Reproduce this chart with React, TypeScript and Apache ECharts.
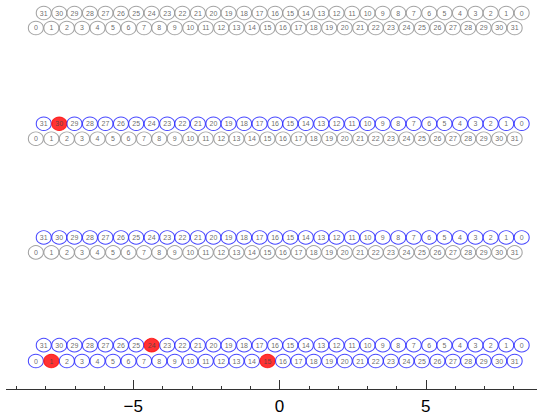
import React, { useEffect, useRef } from "react";
import * as echarts from "echarts";

const TOP_LABELS = [31, 30, 29, 28, 27, 26, 25, 24, 23, 22, 21, 20, 19, 18, 17, 16, 15, 14, 13, 12, 11, 10, 9, 8, 7, 6, 5, 4, 3, 2, 1, 0];
const TOP_X = [-8.06, -7.53, -7.01, -6.48, -5.95, -5.42, -4.9, -4.37, -3.84, -3.32, -2.79, -2.26, -1.74, -1.21, -0.68, -0.15, 0.37, 0.9, 1.43, 1.95, 2.48, 3.01, 3.53, 4.06, 4.59, 5.12, 5.64, 6.17, 6.7, 7.22, 7.75, 8.28];
const BOTTOM_LABELS = [0, 1, 2, 3, 4, 5, 6, 7, 8, 9, 10, 11, 12, 13, 14, 15, 16, 17, 18, 19, 20, 21, 22, 23, 24, 25, 26, 27, 28, 29, 30, 31];
const BOTTOM_X = [-8.33, -7.8, -7.27, -6.75, -6.22, -5.69, -5.16, -4.63, -4.11, -3.58, -3.05, -2.52, -1.99, -1.47, -0.94, -0.41, 0.12, 0.65, 1.17, 1.7, 2.23, 2.76, 3.29, 3.81, 4.34, 4.87, 5.4, 5.93, 6.45, 6.98, 7.51, 8.04];

const GROUP_TOP_Y = [0.87, 8.27, 15.87, 23.07];
const GROUP_BOTTOM_Y = [1.87, 9.27, 16.87, 24.13];
const TOP_ACTIVE = [false, true, true, true];
const BOTTOM_ACTIVE = [false, false, false, true];
const TOP_RED: number[][] = [[], [30], [], [24]];
const BOTTOM_RED: number[][] = [[], [], [], [1, 15]];

const GRAY = "#8c8c8c";
const BLUE = "#1a1aff";
const RED = "#ff0000";

function buildRow(xs: number[], labels: number[], y: number, active: boolean, reds: number[]) {
  return labels.map((lab, i) => {
    const isRed = reds.includes(lab);
    return {
      value: [xs[i], y],
      name: String(lab),
      itemStyle: {
        color: isRed ? RED : "#ffffff",
        borderColor: isRed ? RED : active ? BLUE : GRAY,
        borderWidth: 1,
      },
    };
  });
}

export default function App() {
  const ref = useRef<HTMLDivElement>(null);
  useEffect(() => {
    if (!ref.current) return;
    const chart = echarts.init(ref.current, undefined, { renderer: "svg" });
    const data: any[] = [];
    for (let g = 0; g < 4; g++) {
      data.push(...buildRow(TOP_X, TOP_LABELS, GROUP_TOP_Y[g], TOP_ACTIVE[g], TOP_RED[g]));
      data.push(...buildRow(BOTTOM_X, BOTTOM_LABELS, GROUP_BOTTOM_Y[g], BOTTOM_ACTIVE[g], BOTTOM_RED[g]));
    }
    chart.setOption({
      animation: false,
      grid: { left: 0, right: 0, top: 0, bottom: 25, containLabel: false },
      xAxis: {
        type: "value",
        min: -10,
        max: 10,
        interval: 5,
        splitLine: { show: false },
        axisLine: { show: true, onZero: false, lineStyle: { color: "#333", width: 1 } },
        axisTick: { show: true, inside: true, length: 9, lineStyle: { color: "#333" } },
        minorTick: { show: true, splitNumber: 5, length: 3, lineStyle: { color: "#333" } },
        axisLabel: {
          margin: 9,
          fontSize: 17,
          color: "#000",
          fontFamily: "Liberation Sans, Arial, sans-serif",
          formatter: (v: number) => (Math.abs(v) >= 10 ? "" : v < 0 ? "\u2212" + Math.abs(v) : String(v)),
        },
      },
      yAxis: {
        type: "value",
        min: 0,
        max: 26,
        inverse: true,
        show: false,
      },
      series: [
        {
          type: "scatter",
          symbol: "circle",
          symbolSize: [15, 13.5],
          data,
          label: {
            show: true,
            position: "inside",
            formatter: (p: any) => p.name,
            fontSize: 7,
            color: "#444",
            fontFamily: "Liberation Sans, Arial, sans-serif",
          },
          emphasis: { disabled: true },
        },
      ],
    });
    return () => chart.dispose();
  }, []);
  return (
    <div
      style={{ position: "fixed", left: 6, top: 0, width: 531, height: 415, overflow: "hidden", background: "#fff" }}
    >
      <div
        ref={ref}
        style={{ position: "absolute", left: -22.3, top: 0, width: 591.2, height: 415 }}
      />
    </div>
  );
}
